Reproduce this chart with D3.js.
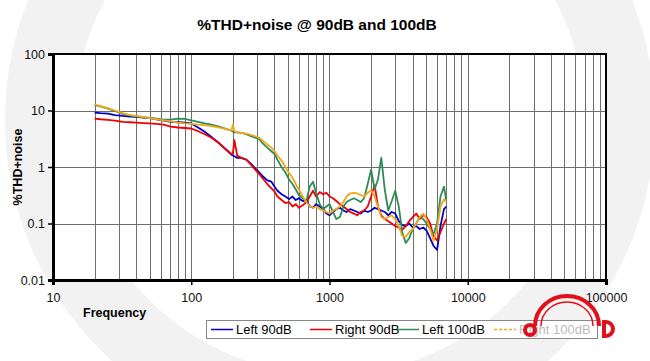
<!DOCTYPE html>
<html>
<head>
<meta charset="utf-8">
<script src="https://cdn.jsdelivr.net/npm/d3@7"></script>
<style>
  body { margin: 0; background: #fff; }
  svg { display: block; font-family: Arial, "Liberation Sans", sans-serif; }
</style>
</head>
<body>
<div class="board"></div>
<script>
// THD+noise chart, log/log

var width = 650;
var height = 361;

// frequency points (Hz) shared by all four traces
var freqs = [20, 22, 25, 28, 32, 36, 40, 45, 50, 56, 63, 71, 80, 90, 100, 112, 125, 140, 160, 180,
  195, 200, 205, 215, 230, 250, 270, 290, 310, 330, 355, 380, 400, 420, 450, 480, 510, 540, 570, 600,
  640, 680, 720, 760, 800, 850, 900, 950, 1000, 1060, 1120, 1190, 1260, 1330, 1410, 1500, 1590, 1680,
  1780, 1890, 2000, 2120, 2240, 2370, 2510, 2660, 2820, 2990, 3170, 3360, 3560, 3770, 4000, 4240,
  4490, 4760, 5040, 5340, 5660, 6000, 6350, 6730, 7000];

var left90 = [9.2, 9.0, 8.8, 8.3, 8.0, 7.8, 7.7, 7.5, 7.3, 7.0, 6.6, 6.3, 6.2, 6.1, 5.9, 5.0, 4.2, 3.4, 2.6, 2.0,
  1.65, 1.6, 1.55, 1.45, 1.45, 1.35, 1.15, 0.95, 0.8, 0.68, 0.58, 0.55, 0.45, 0.38, 0.33, 0.30, 0.27, 0.3, 0.26, 0.28,
  0.25, 0.26, 0.2, 0.19, 0.22, 0.2, 0.18, 0.15, 0.14, 0.16, 0.18, 0.19, 0.17, 0.16, 0.18, 0.17, 0.16, 0.15,
  0.17, 0.16, 0.17, 0.19, 0.18, 0.17, 0.16, 0.14, 0.16, 0.15, 0.11, 0.094, 0.09, 0.1, 0.085, 0.09,
  0.08, 0.085, 0.075, 0.055, 0.04, 0.034, 0.09, 0.18, 0.2];

var right90 = [7.2, 7.0, 6.8, 6.6, 6.3, 6.2, 6.1, 6.0, 5.9, 5.8, 5.6, 5.2, 5.0, 4.9, 4.8, 4.3, 3.8, 3.3, 2.6, 2.0,
  1.7, 1.75, 3.0, 1.6, 1.45, 1.35, 1.1, 0.9, 0.75, 0.62, 0.5, 0.42, 0.37, 0.3, 0.26, 0.23, 0.24, 0.2, 0.22, 0.19,
  0.21, 0.24, 0.3, 0.38, 0.3, 0.36, 0.33, 0.35, 0.3, 0.28, 0.25, 0.22, 0.2, 0.18, 0.16, 0.15, 0.14, 0.16,
  0.17, 0.2, 0.3, 0.48, 0.2, 0.14, 0.12, 0.11, 0.1, 0.09, 0.085, 0.077, 0.09, 0.11, 0.13, 0.15,
  0.12, 0.14, 0.13, 0.1, 0.06, 0.05, 0.07, 0.1, 0.12];

var left100 = [12.5, 11.8, 10.8, 9.8, 8.7, 8.2, 7.9, 7.6, 7.4, 7.2, 6.9, 6.9, 7.2, 7.1, 6.7, 6.3, 5.9, 5.6, 5.2, 4.7,
  4.4, 4.2, 4.1, 4.1, 4.0, 3.8, 3.5, 3.3, 3.1, 2.6, 2.2, 1.9, 1.7, 1.35, 1.0, 0.8, 0.6, 0.5, 0.4, 0.32,
  0.28, 0.25, 0.45, 0.55, 0.35, 0.22, 0.18, 0.2, 0.22, 0.16, 0.12, 0.13, 0.2, 0.24, 0.26, 0.28, 0.26, 0.24,
  0.28, 0.5, 0.9, 0.4, 0.6, 1.45, 0.4, 0.17, 0.25, 0.38, 0.2, 0.07, 0.045, 0.055, 0.08, 0.1,
  0.13, 0.12, 0.1, 0.08, 0.065, 0.1, 0.3, 0.45, 0.25];

var right100 = [12.8, 12.0, 11.0, 10.0, 9.0, 8.3, 8.0, 7.6, 7.3, 7.0, 6.7, 6.4, 6.1, 5.9, 5.8, 5.6, 5.5, 5.3, 5.0, 4.7,
  4.4, 5.6, 4.3, 4.1, 4.0, 3.9, 3.7, 3.5, 3.3, 2.9, 2.5, 2.2, 1.9, 1.6, 1.3, 1.0, 0.78, 0.65, 0.5, 0.4,
  0.3, 0.24, 0.2, 0.19, 0.2, 0.18, 0.17, 0.16, 0.15, 0.17, 0.18, 0.2, 0.24, 0.3, 0.34, 0.35, 0.34, 0.32,
  0.3, 0.35, 0.39, 0.3, 0.2, 0.13, 0.12, 0.13, 0.14, 0.12, 0.09, 0.06, 0.058, 0.07, 0.08, 0.1,
  0.13, 0.15, 0.12, 0.08, 0.05, 0.08, 0.2, 0.27, 0.25];

var seriesNames = ['Left 90dB', 'Right 90dB', 'Left 100dB', 'Right 100dB'];
var seriesColors = ['#0000c8', '#f00000', '#2e8b57', '#f0a818'];
var yTicks = [0.01, 0.1, 1, 10, 100];
var xTicks = [10, 100, 1000, 10000, 100000];

var series = [left90, right90, left100, right100].map(function(vals, i) {
  return {
    name: seriesNames[i],
    color: seriesColors[i],
    points: vals.map(function(v, j) { return { f: freqs[j], v: v }; })
  };
});

var svg = d3.select('.board').append('svg')
  .attr('width', width)
  .attr('height', height);

// faint background watermark
svg.append('circle')
  .attr('cx', 330).attr('cy', 120).attr('r', 290)
  .attr('fill', 'none').attr('stroke', '#f2f2f2').attr('stroke-width', 70);

var x = d3.scaleLog().domain([10, 100000]).range([53, 606]);
var y = d3.scaleLog().domain([0.01, 100]).range([280, 54]);

// plot background
svg.append('rect')
  .attr('x', 53).attr('y', 54)
  .attr('width', 553).attr('height', 226)
  .attr('fill', '#fff');

// vertical grid at every log tick
svg.append('g').selectAll('line').data(x.ticks().filter(function(d) { return d > 10 && d < 100000; }))
  .enter().append('line')
  .attr('x1', function(d) { return Math.round(x(d)) + 0.5; })
  .attr('x2', function(d) { return Math.round(x(d)) + 0.5; })
  .attr('y1', 54).attr('y2', 280)
  .attr('stroke', '#6e6e6e').attr('stroke-width', 1);

// horizontal grid at decades
svg.append('g').selectAll('line').data([0.1, 1, 10])
  .enter().append('line')
  .attr('y1', function(d) { return Math.round(y(d)) + 0.5; })
  .attr('y2', function(d) { return Math.round(y(d)) + 0.5; })
  .attr('x1', 53).attr('x2', 606)
  .attr('stroke', '#6e6e6e').attr('stroke-width', 1);

// traces
var line = d3.line()
  .x(function(d) { return x(d.f); })
  .y(function(d) { return y(d.v); });

svg.append('g').selectAll('path').data(series)
  .enter().append('path')
  .attr('d', function(d) { return line(d.points); })
  .attr('fill', 'none')
  .attr('stroke', function(d) { return d.color; })
  .attr('stroke-width', 1.8)
  .attr('stroke-linejoin', 'round');

// frame
svg.append('rect')
  .attr('x', 53).attr('y', 54)
  .attr('width', 553).attr('height', 226)
  .attr('fill', 'none').attr('stroke', '#000').attr('stroke-width', 2);

// axes
var yAxis = svg.append('g')
  .attr('transform', 'translate(53,0)')
  .call(d3.axisLeft(y).tickValues(yTicks).tickSize(5).tickPadding(3)
    .tickFormat(function(d) { return String(d); }));
yAxis.select('.domain').attr('stroke-width', 3);

var xAxis = svg.append('g')
  .attr('transform', 'translate(0,280)')
  .call(d3.axisBottom(x).tickValues(xTicks).tickSize(5).tickPadding(8)
    .tickFormat(function(d) { return String(d); }));
xAxis.select('.domain').attr('stroke-width', 3);

svg.selectAll('.tick text')
  .attr('font-size', 12.5)
  .attr('font-family', 'Arial, "Liberation Sans", sans-serif')
  .attr('fill', '#111');
svg.selectAll('.tick line').attr('stroke', '#000').attr('stroke-width', 1.5);

// titles
svg.append('text')
  .attr('x', 317).attr('y', 30)
  .attr('text-anchor', 'middle')
  .attr('font-size', 15.5).attr('font-weight', 'bold')
  .text('%THD+noise @ 90dB and 100dB');

svg.append('text')
  .attr('transform', 'translate(22,167) rotate(-90)')
  .attr('text-anchor', 'middle')
  .attr('font-size', 12.5).attr('font-weight', 'bold')
  .text('%THD+noise');

svg.append('text')
  .attr('x', 83).attr('y', 317)
  .attr('font-size', 12.5).attr('font-weight', 'bold')
  .text('Frequency');

// legend
var legendX = [211, 310, 397, 494];
var legend = svg.append('g');
legend.append('rect')
  .attr('x', 206.5).attr('y', 320.5)
  .attr('width', 391).attr('height', 18)
  .attr('fill', '#fff').attr('stroke', '#888');

var items = legend.selectAll('g.item').data(series)
  .enter().append('g').attr('class', 'item')
  .attr('transform', function(d, i) { return 'translate(' + legendX[i] + ',0)'; });

items.append('line')
  .attr('x1', 0).attr('x2', 22)
  .attr('y1', 329.5).attr('y2', 329.5)
  .attr('stroke', function(d) { return d.color; })
  .attr('stroke-width', 1.5)
  .attr('stroke-dasharray', function(d, i) { return i === 3 ? '3,2' : null; });

items.append('text')
  .attr('x', 25).attr('y', 334)
  .attr('font-size', 13)
  .attr('fill', function(d, i) { return i === 3 ? '#bbb' : '#000'; })
  .text(function(d) { return d.name; });

// red headphone logo in the corner
var logo = svg.append('g').attr('fill', 'none').attr('stroke', '#e0101c');
logo.append('path').attr('d', 'M535,326 A32,30 0 0 1 599,326').attr('stroke-width', 4);
logo.append('path').attr('d', 'M541,326 A26,24 0 0 1 593,326').attr('stroke-width', 1.5);
logo.append('circle').attr('cx', 530).attr('cy', 330).attr('r', 5).attr('stroke-width', 4);
logo.append('path').attr('d', 'M604,322 L606,322 A7,7 0 0 1 606,336 L604,336 Z').attr('stroke-width', 4);
</script>
</body>
</html>
